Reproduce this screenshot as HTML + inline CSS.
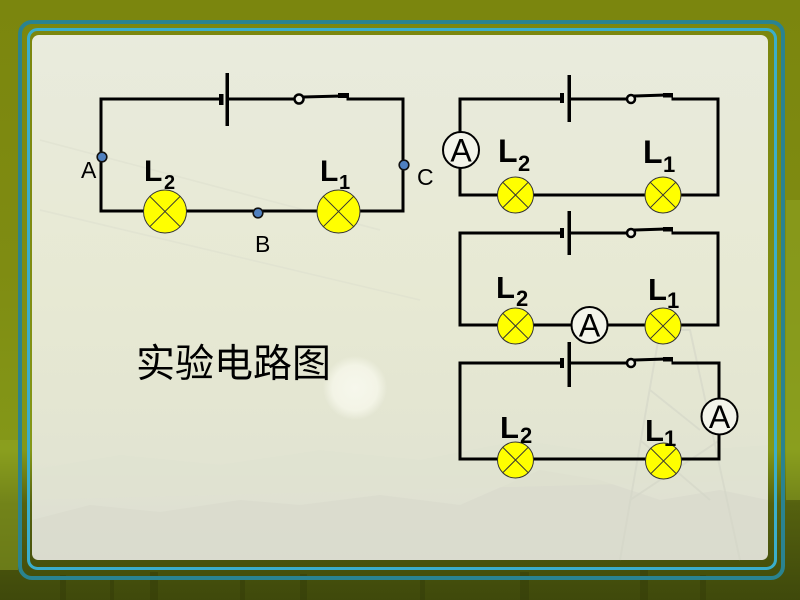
<!DOCTYPE html>
<html>
<head>
<meta charset="utf-8">
<style>
  html,body{margin:0;padding:0;width:800px;height:600px;overflow:hidden;background:#7c870f;}
  svg{display:block;}
</style>
</head>
<body>
<svg width="800" height="600" viewBox="0 0 800 600" xmlns="http://www.w3.org/2000/svg">
  <defs>
    <linearGradient id="outer" x1="0" y1="0" x2="0" y2="1">
      <stop offset="0" stop-color="#7b860e"/>
      <stop offset="0.45" stop-color="#7f8c12"/>
      <stop offset="0.75" stop-color="#849818"/>
      <stop offset="0.84" stop-color="#55610f"/>
      <stop offset="1" stop-color="#3f490b"/>
    </linearGradient>
    <linearGradient id="panel" x1="0" y1="0" x2="0" y2="1">
      <stop offset="0" stop-color="#e9ebdd"/>
      <stop offset="0.5" stop-color="#e7e9d3"/>
      <stop offset="0.8" stop-color="#e2e4d2"/>
      <stop offset="1" stop-color="#dcddd2"/>
    </linearGradient>
    <radialGradient id="sun" cx="0.5" cy="0.5" r="0.5">
      <stop offset="0" stop-color="#f6f7ec"/>
      <stop offset="0.7" stop-color="#f3f4e6"/>
      <stop offset="1" stop-color="#f3f4e6" stop-opacity="0"/>
    </radialGradient>
  </defs>

  <rect x="0" y="0" width="800" height="600" fill="url(#outer)"/>
  <g fill="#2f3608" opacity="0.35">
    <rect x="60" y="575" width="6" height="25"/>
    <rect x="110" y="580" width="4" height="20"/>
    <rect x="150" y="572" width="8" height="28"/>
    <rect x="240" y="578" width="5" height="22"/>
    <rect x="300" y="574" width="7" height="26"/>
    <rect x="420" y="576" width="5" height="24"/>
    <rect x="520" y="572" width="9" height="28"/>
    <rect x="640" y="570" width="8" height="30"/>
    <rect x="700" y="575" width="6" height="25"/>
  </g>
  <g fill="#8fa524" opacity="0.5">
    <rect x="0" y="440" width="18" height="130"/>
    <rect x="786" y="200" width="14" height="300"/>
  </g>

  <rect x="20" y="22" width="763" height="556" rx="12" fill="none" stroke="#2a8390" stroke-width="4"/>
  <rect x="28.5" y="29.5" width="747" height="539" rx="9" fill="none" stroke="#3aaecb" stroke-width="3"/>

  <rect x="32" y="35" width="736" height="525" rx="7" fill="url(#panel)"/>
  <circle cx="355" cy="388" r="32" fill="url(#sun)"/>
  <path d="M32 520 L90 505 L160 512 L240 500 L300 505 L380 495 L460 505 L540 470 L600 480 L660 500 L720 490 L768 500 L768 553 Q768 560 761 560 L39 560 Q32 560 32 553 Z" fill="#d9dbcd" opacity="0.8"/>
  <path d="M32 470 L120 455 L220 465 L320 450 L420 460 L520 440 L620 455 L768 445 L768 480 L32 500 Z" fill="#e0e2d1" opacity="0.6"/>
  <g stroke="#d4d6c8" stroke-width="2" fill="none" opacity="0.6">
    <path d="M620 560 L660 330 L690 330 L740 560"/>
    <path d="M630 500 L720 440 M640 440 L710 500 M650 390 L700 430"/>
  </g>
  <g stroke="#dcdecd" stroke-width="1.5" fill="none" opacity="0.5">
    <path d="M40 210 L420 300 M40 140 L380 230"/>
  </g>

  <!-- ============ MAIN CIRCUIT ============ -->
  <g stroke="#000" stroke-width="3" fill="none" stroke-linecap="square">
    <path d="M221 99 L101 99 L101 211 L403 211 L403 99 L348 99"/>
    <path d="M227 99 L294 99"/>
    <path d="M304 97 L340 96"/>
  </g>
  <rect x="219" y="94" width="4.5" height="11" fill="#000"/>
  <rect x="225.5" y="73" width="3.5" height="53" fill="#000"/>
  <circle cx="299" cy="99" r="4.5" fill="#f0f1e6" stroke="#000" stroke-width="2.5"/>
  <rect x="338" y="93" width="11" height="5" fill="#000"/>
  <g stroke="#333" stroke-width="1">
    <circle cx="165" cy="211.5" r="21.5" fill="#ffff00"/>
    <path d="M149.8 196.3 L180.2 226.7 M180.2 196.3 L149.8 226.7"/>
    <circle cx="338.5" cy="211.5" r="21.5" fill="#ffff00"/>
    <path d="M323.3 196.3 L353.7 226.7 M353.7 196.3 L323.3 226.7"/>
  </g>
  <g fill="#4f80c0" stroke="#111" stroke-width="1.6">
    <circle cx="102" cy="157" r="4.8"/>
    <circle cx="404" cy="165" r="4.8"/>
    <circle cx="258" cy="213" r="4.8"/>
  </g>
  <g font-family="Liberation Sans, sans-serif" fill="#000">
    <text x="81" y="178" font-size="23">A</text>
    <text x="417" y="185" font-size="23">C</text>
    <text x="255" y="252" font-size="23">B</text>
  </g>
  <g font-family="Liberation Sans, sans-serif" font-weight="bold" fill="#000">
    <text x="144" y="181" font-size="30">L</text>
    <text x="164" y="189" font-size="20">2</text>
    <text x="320" y="181" font-size="30">L</text>
    <text x="339" y="189" font-size="20">1</text>
  </g>

  <text x="136" y="377" font-family="Liberation Sans, 'Noto Sans CJK SC', sans-serif" font-size="39" fill="#000">实验电路图</text>

  <!-- ============ RIGHT CIRCUIT 1 ============ -->
  <g stroke="#000" stroke-width="3" fill="none" stroke-linecap="square">
    <path d="M562 99 L460 99 L460 195 L718 195 L718 99 L673 99"/>
    <path d="M569 99 L627 99"/>
    <path d="M635 96 L664 95"/>
  </g>
  <rect x="560" y="93" width="4" height="10" fill="#000"/>
  <rect x="567.5" y="75" width="3.5" height="47" fill="#000"/>
  <circle cx="631" cy="99" r="4" fill="#f0f1e6" stroke="#000" stroke-width="2.5"/>
  <rect x="663" y="93" width="10" height="4.5" fill="#000"/>
  <circle cx="461" cy="150" r="18" fill="#f3f4ea" stroke="#000" stroke-width="2"/>
  <text x="461" y="161.5" text-anchor="middle" font-family="Liberation Sans, sans-serif" font-size="32" fill="#000">A</text>
  <g stroke="#333" stroke-width="1">
    <circle cx="515.5" cy="195" r="18" fill="#ffff00"/>
    <path d="M502.8 182.3 L528.2 207.7 M528.2 182.3 L502.8 207.7"/>
    <circle cx="663" cy="195" r="18" fill="#ffff00"/>
    <path d="M650.3 182.3 L675.7 207.7 M675.7 182.3 L650.3 207.7"/>
  </g>
  <g font-family="Liberation Sans, sans-serif" font-weight="bold" fill="#000">
    <text x="498" y="162" font-size="32">L</text>
    <text x="518" y="171" font-size="22">2</text>
    <text x="643" y="163" font-size="32">L</text>
    <text x="663" y="172" font-size="22">1</text>
  </g>

  <!-- ============ RIGHT CIRCUIT 2 ============ -->
  <g stroke="#000" stroke-width="3" fill="none" stroke-linecap="square">
    <path d="M562 233 L460 233 L460 325 L718 325 L718 233 L673 233"/>
    <path d="M569 233 L627 233"/>
    <path d="M635 230 L664 229"/>
  </g>
  <rect x="560" y="228" width="4" height="10" fill="#000"/>
  <rect x="567.5" y="211" width="3.5" height="44" fill="#000"/>
  <circle cx="631" cy="233" r="4" fill="#f0f1e6" stroke="#000" stroke-width="2.5"/>
  <rect x="663" y="227" width="10" height="4.5" fill="#000"/>
  <circle cx="589.5" cy="325" r="18" fill="#f3f4ea" stroke="#000" stroke-width="2"/>
  <text x="589.5" y="336.5" text-anchor="middle" font-family="Liberation Sans, sans-serif" font-size="32" fill="#000">A</text>
  <g stroke="#333" stroke-width="1">
    <circle cx="515.5" cy="326" r="18" fill="#ffff00"/>
    <path d="M502.8 313.3 L528.2 338.7 M528.2 313.3 L502.8 338.7"/>
    <circle cx="663" cy="326" r="18" fill="#ffff00"/>
    <path d="M650.3 313.3 L675.7 338.7 M675.7 313.3 L650.3 338.7"/>
  </g>
  <g font-family="Liberation Sans, sans-serif" font-weight="bold" fill="#000">
    <text x="496" y="298" font-size="31">L</text>
    <text x="516" y="306" font-size="22">2</text>
    <text x="648" y="300" font-size="31">L</text>
    <text x="667" y="308" font-size="22">1</text>
  </g>

  <!-- ============ RIGHT CIRCUIT 3 ============ -->
  <g stroke="#000" stroke-width="3" fill="none" stroke-linecap="square">
    <path d="M562 363 L460 363 L460 459 L719 459 L719 363 L673 363"/>
    <path d="M569 363 L627 363"/>
    <path d="M635 360 L664 359"/>
  </g>
  <rect x="560" y="358" width="4" height="10" fill="#000"/>
  <rect x="567.5" y="342" width="3.5" height="45" fill="#000"/>
  <circle cx="631" cy="363" r="4" fill="#f0f1e6" stroke="#000" stroke-width="2.5"/>
  <rect x="663" y="357" width="10" height="4.5" fill="#000"/>
  <circle cx="719.5" cy="416.5" r="18" fill="#f3f4ea" stroke="#000" stroke-width="2"/>
  <text x="719.5" y="428" text-anchor="middle" font-family="Liberation Sans, sans-serif" font-size="32" fill="#000">A</text>
  <g stroke="#333" stroke-width="1">
    <circle cx="515.5" cy="460" r="18" fill="#ffff00"/>
    <path d="M502.8 447.3 L528.2 472.7 M528.2 447.3 L502.8 472.7"/>
    <circle cx="663.5" cy="461" r="18" fill="#ffff00"/>
    <path d="M650.8 448.3 L676.2 473.7 M676.2 448.3 L650.8 473.7"/>
  </g>
  <g font-family="Liberation Sans, sans-serif" font-weight="bold" fill="#000">
    <text x="500" y="438" font-size="31">L</text>
    <text x="520" y="443" font-size="22">2</text>
    <text x="645" y="441" font-size="31">L</text>
    <text x="664" y="446" font-size="22">1</text>
  </g>
</svg>
</body>
</html>
